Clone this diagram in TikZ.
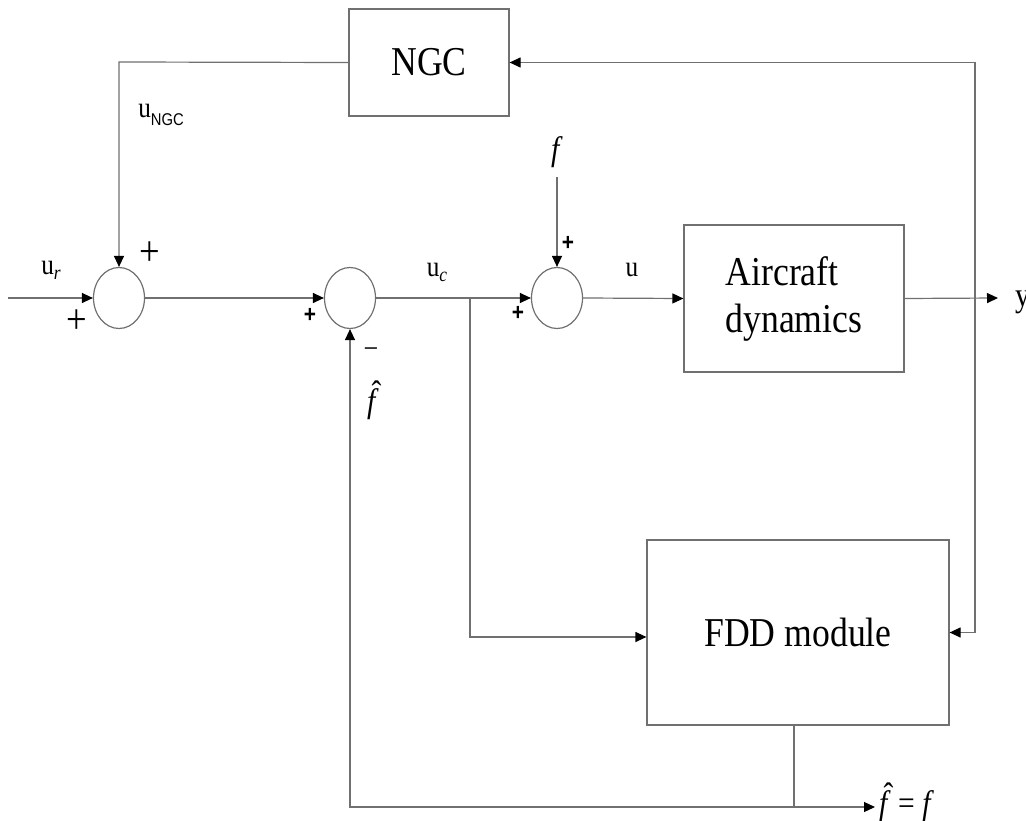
\documentclass[tikz,border=0pt]{standalone}
\usepackage{fontspec}
\setmainfont{Liberation Serif}[FakeStretch=0.87]
\newfontfamily\sansf{Liberation Sans}[FakeStretch=0.87]
\usetikzlibrary{arrows.meta,shapes.geometric}
\definecolor{lncol}{RGB}{112,112,112}
\newcommand\fhatsym{\makebox[0pt][l]{\hspace{0.13em}\raisebox{0.24em}{ˆ}}\textit{f}}
\begin{document}
\begin{tikzpicture}[x=1pt,y=-1pt,
  line/.style={draw=lncol,line width=1.2pt},
  arr/.style={line,-{Triangle[length=11pt,width=10pt,color=black]}},
  blockbox/.style={draw=lncol,line width=1.2pt,inner sep=0pt,font=\fontsize{41}{47}\selectfont},
  sumnode/.style={ellipse,draw=lncol,line width=1.2pt,minimum width=51pt,minimum height=61pt,inner sep=0pt},
  bigplus/.style={font=\fontsize{42}{42}\selectfont,inner sep=0pt},
  smallplus/.style={font=\sansf\bfseries\fontsize{24}{24}\selectfont,inner sep=0pt},
  sig/.style={font=\fontsize{29}{29}\selectfont,inner sep=0pt},
  fsig/.style={font=\fontsize{34}{34}\selectfont,inner sep=0pt}
]
\useasboundingbox (0,0) rectangle (1026,821);

% blocks
\node[blockbox,minimum width=160pt,minimum height=107pt] (ngc) at (429,62.5) {NGC};
\node[blockbox,minimum width=220pt,minimum height=147pt,align=left] (air) at (794,298.5) {Aircraft\\dynamics};
\node[blockbox,minimum width=302pt,minimum height=185pt] (fdd) at (798,632.5) {FDD module};

% summing junctions
\node[sumnode] (s1) at (119,298) {};
\node[sumnode] (s2) at (350,298) {};
\node[sumnode] (s3) at (557,298) {};

% coordinates
\coordinate (in) at (8,298);
\coordinate (br) at (470,298);
\coordinate (fb) at (975,298);
\coordinate (yout) at (998,298);
\coordinate (ftop) at (557,177);
\coordinate (fddin) at (470,637);
\coordinate (fbot) at (794,725);
\coordinate (fcorner) at (794,807);
\coordinate (lcorner) at (350,807);
\coordinate (fout) at (875,807);
\coordinate (ngccorner) at (119,62);

% connectors
\draw[arr] (in) -- (s1.west);
\draw[arr] (s1.east) -- (s2.west);
\draw[line] (s2.east) -- (br);
\draw[arr] (br) -- (s3.west);
\draw[arr] (s3.east) -- (air.west);
\draw[arr] (air.east) -- (yout);
\draw[arr] (ftop) -- (s3.north);
\draw[arr] (ngc.west) -- (ngccorner) -- (s1.north);
\draw[arr] (fb) |- (ngc.east);
\draw[arr] (fb) |- (fdd.east);
\draw[arr] (br) -- (fddin) -- (fddin -| fdd.west);
\draw[line] (fbot) -- (fcorner);
\draw[arr] (fcorner) -- (lcorner) -- (s2.south);
\draw[arr] (fcorner) -- (fout);

% labels
\node[sig] (lur) at (51,270) {u\textit{\fontsize{20}{20}\selectfont\raisebox{-0.25em}{r}}};
\node[bigplus] (p1) at (150,254) {+};
\node[bigplus] (p2) at (77,322) {+};
\node[sig] (lungc) at (161,115) {u\raisebox{-0.3em}{\sansf\fontsize{17}{17}\selectfont NGC}};
\node[smallplus] (p3) at (310,315) {+};
\node[smallplus] (p4) at (568,243) {+};
\node[smallplus] (p5) at (518,313) {+};
\node[font=\fontsize{30}{30}\selectfont,inner sep=0pt] (m1) at (371,353) {−};
\node[fsig] (lfhat) at (373,400) {\fhatsym};
\node[sig] (luc) at (437,272) {u\textit{\fontsize{20}{20}\selectfont\raisebox{-0.25em}{c}}};
\node[sig] (lu) at (632,270) {u};
\node[fsig] (lf) at (557,152) {\textit{f}};
\node[fsig,anchor=base west] (ly) at (1015,306) {y};
\node[fsig,anchor=west] (lfeq) at (879,802) {\fhatsym\ = \textit{f}};
\end{tikzpicture}
\end{document}
